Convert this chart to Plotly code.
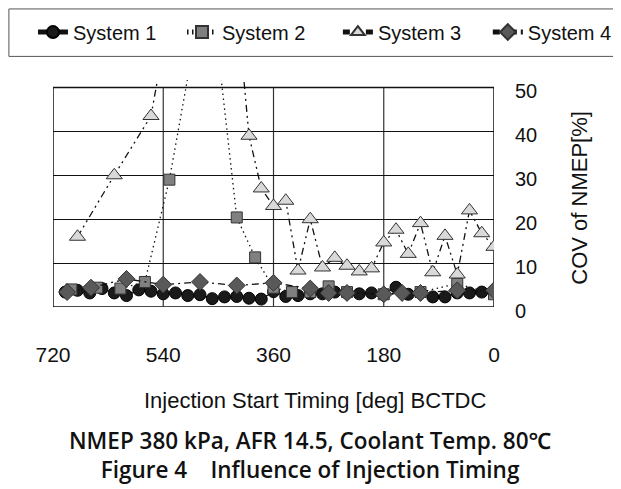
import plotly.graph_objects as go

# ---------------- data ----------------
sys1_x = [700, 680, 660, 640, 620, 600, 580, 560, 540, 520, 500, 480, 460, 440, 420, 400, 380, 360,
          340, 320, 300, 280, 260, 240, 220, 200, 180, 160, 140, 120, 100, 80, 60, 40, 20, 0]
sys1_y = [3.4, 3.8, 3.2, 4.2, 3.2, 2.6, 3.9, 3.6, 3.0, 3.2, 2.6, 2.8, 1.9, 2.3, 2.4, 2.0, 1.8, 3.5,
          2.4, 2.6, 3.0, 3.0, 3.4, 3.2, 3.0, 3.2, 2.9, 4.5, 2.9, 3.2, 2.3, 2.3, 3.2, 3.2, 3.4, 3.2]

sys2_x = [690, 648, 610, 570, 530, 490, 460, 420, 390, 360, 330, 300, 270, 240, 180, 120, 60, 0]
sys2_y = [4.0, 4.4, 4.2, 5.7, 29.0, 60.0, 70.0, 20.4, 11.3, 4.4, 3.4, 3.4, 4.7, 3.4, 2.9, 3.4, 5.3, 2.9]

sys3_x = [680, 620, 560, 500, 440, 400, 380, 360, 340, 320, 300, 280, 260, 240, 220, 200, 180,
          160, 140, 120, 100, 80, 60, 40, 20, 0]
sys3_y = [16.0, 30.0, 43.5, 90.0, 100.0, 39.0, 27.0, 23.0, 24.2, 8.3, 20.0, 9.0, 11.2, 9.4, 8.1,
          8.8, 14.7, 17.6, 12.1, 19.1, 7.9, 16.2, 7.4, 22.0, 16.8, 13.7]

sys4_x = [697, 658, 600, 540, 480, 420, 360, 300, 270, 240, 180, 150, 120, 60, 0]
sys4_y = [3.4, 4.4, 6.4, 5.1, 5.7, 4.9, 5.5, 4.2, 3.2, 3.2, 2.9, 3.2, 3.2, 3.8, 3.8]

series_names = ["System 1", "System 2", "System 3", "System 4"]
x_ticks = [720, 540, 360, 180, 0]
y_ticks = [0, 10, 20, 30, 40, 50]

x_title = "Injection Start Timing [deg] BCTDC"
y_title = "COV of NMEP[%]"
caption1 = "NMEP 380 kPa, AFR 14.5, Coolant Temp. 80℃"
caption2 = "Figure 4\u00a0\u00a0\u00a0\u00a0Influence of Injection Timing"

# ---------------- figure ----------------
FONT = "Liberation Sans, Arial, sans-serif"
CAP_FONT = "Open Sans, Noto Sans, sans-serif"
fig = go.Figure()

fig.add_trace(go.Scatter(
    x=sys1_x, y=sys1_y, name=series_names[0], mode="lines+markers", legend="legend",
    line=dict(color="#111111", width=1.2),
    marker=dict(symbol="circle", size=12, color="#1a1a1a", line=dict(color="#000000", width=1))))
fig.add_trace(go.Scatter(
    x=sys2_x, y=sys2_y, name=series_names[1], mode="lines+markers", legend="legend2",
    line=dict(color="#111111", width=1.3, dash="1.5px,3.5px"),
    marker=dict(symbol="square", size=11, color="#808080", line=dict(color="#333333", width=1))))
fig.add_trace(go.Scatter(
    x=sys3_x, y=sys3_y, name=series_names[2], mode="lines+markers", legend="legend3",
    line=dict(color="#111111", width=1.3, dash="7px,4px,2px,4px,2px,4px"),
    marker=dict(symbol="triangle-up", size=14, color="#d9d9d9", line=dict(color="#333333", width=1))))
fig.add_trace(go.Scatter(
    x=sys4_x, y=sys4_y, name=series_names[3], mode="lines+markers", legend="legend4",
    line=dict(color="#111111", width=1.3, dash="7px,4px,2px,4px"),
    marker=dict(symbol="diamond", size=13, color="#595959", line=dict(color="#333333", width=1))))

# plot box and vertical grid lines (spanning the 0-50 range only)
shapes = [dict(type="rect", xref="x", yref="y", x0=x_ticks[0], x1=x_ticks[-1],
               y0=y_ticks[0], y1=y_ticks[-1], line=dict(color="#111111", width=1.5), layer="below")]
for xv in x_ticks[1:-1]:
    shapes.append(dict(type="line", xref="x", yref="y", x0=xv, x1=xv, y0=y_ticks[0], y1=y_ticks[-1],
                       line=dict(color="#333333", width=1.2), layer="below"))
# legend frame (runs off the right edge like the original)
shapes.append(dict(type="rect", xref="paper", yref="paper", x0=-0.1, x1=1.3, y0=1.104, y1=1.313,
                   line=dict(color="#555555", width=1)))

legend_x = [-0.0454, 0.2925, 0.646, 0.986]
legend_common = dict(orientation="h", xanchor="left", y=1.297, yanchor="top",
                     font=dict(family=FONT, size=20, color="#111111"),
                     bgcolor="rgba(0,0,0,0)", borderwidth=0, itemsizing="constant")

# the page body adds an 8px margin, so the figure is 8px smaller than the window
fig.update_layout(
    width=613, height=481,
    margin=dict(l=45, r=127, t=72, b=182, pad=0, autoexpand=False),
    paper_bgcolor="white", plot_bgcolor="white",
    font=dict(family=FONT, size=20, color="#111111"),
    showlegend=True,
    legend=dict(x=legend_x[0], **legend_common),
    legend2=dict(x=legend_x[1], **legend_common),
    legend3=dict(x=legend_x[2], **legend_common),
    legend4=dict(x=legend_x[3], **legend_common),
    xaxis=dict(range=[720, 0], tickvals=x_ticks, ticktext=[str(v) for v in x_ticks],
               showgrid=False, zeroline=False, showline=False, ticks="",
               ticklabelstandoff=33, tickfont=dict(family=FONT, size=21, color="#111111")),
    yaxis=dict(range=[0, 51.7], tickvals=y_ticks, side="right",
               showgrid=True, gridcolor="#111111", gridwidth=1.2,
               zeroline=False, showline=False, ticks="",
               ticklabelstandoff=20, ticklabelshift=4,
               tickfont=dict(family=FONT, size=20, color="#111111")),
    shapes=shapes,
    annotations=[
        dict(text=x_title, xref="paper", yref="paper", x=0.595, y=-0.412, showarrow=False,
             xanchor="center", yanchor="middle", font=dict(family=FONT, size=22, color="#111111")),
        dict(text=y_title, xref="paper", yref="paper", x=1.193, y=0.482, showarrow=False,
             textangle=-90, xanchor="center", yanchor="middle",
             font=dict(family=FONT, size=22, color="#111111")),
        dict(text=caption1 + "<br>" + caption2, xref="paper", yref="paper", x=0.583, y=-0.654,
             showarrow=False, xanchor="center", yanchor="middle", align="center",
             font=dict(family=CAP_FONT, size=22.5, weight=600, color="#111111")),
    ],
)

fig.write_html("out.html")
